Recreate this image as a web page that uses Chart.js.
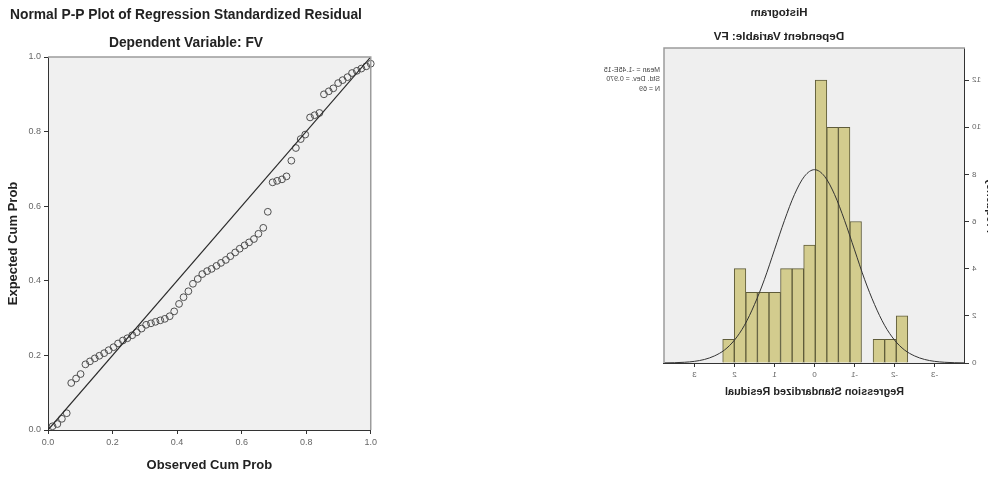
<!DOCTYPE html>
<html>
<head>
<meta charset="utf-8">
<script src="https://cdn.jsdelivr.net/npm/chart.js@4.4.1/dist/chart.umd.min.js"></script>
<style>
  html, body { margin: 0; padding: 0; background: #fff; overflow: hidden; width: 988px; height: 478px; }
  #pp { position: absolute; left: 0; top: 0; }
  #hist { position: absolute; left: 580px; top: 0; transform: scaleX(-1); }
</style>
</head>
<body>
<canvas id="pp" width="380" height="478"></canvas>
<canvas id="hist" width="418" height="478"></canvas>
<script>
// ---- P-P plot data: observed vs expected cumulative probability of the residuals
const observedCumProb = [
  0.014, 0.029, 0.043, 0.058, 0.072, 0.087, 0.101, 0.116, 0.130, 0.145,
  0.159, 0.174, 0.188, 0.203, 0.217, 0.232, 0.246, 0.261, 0.275, 0.290,
  0.304, 0.319, 0.333, 0.348, 0.362, 0.377, 0.391, 0.406, 0.420, 0.435,
  0.449, 0.464, 0.478, 0.493, 0.507, 0.522, 0.536, 0.551, 0.565, 0.580,
  0.594, 0.609, 0.623, 0.638, 0.652, 0.667, 0.681, 0.696, 0.710, 0.725,
  0.739, 0.754, 0.768, 0.783, 0.797, 0.812, 0.826, 0.841, 0.855, 0.870,
  0.884, 0.899, 0.913, 0.928, 0.942, 0.957, 0.971, 0.986, 1.000
];
const expectedCumProb = [
  0.010, 0.016, 0.030, 0.045, 0.126, 0.138, 0.150, 0.176, 0.184, 0.192,
  0.199, 0.206, 0.214, 0.222, 0.232, 0.240, 0.246, 0.254, 0.262, 0.272,
  0.282, 0.286, 0.290, 0.294, 0.298, 0.305, 0.318, 0.338, 0.356, 0.372,
  0.392, 0.405, 0.418, 0.426, 0.432, 0.440, 0.448, 0.456, 0.466, 0.476,
  0.486, 0.495, 0.503, 0.512, 0.526, 0.542, 0.585, 0.664, 0.668, 0.672,
  0.680, 0.722, 0.756, 0.780, 0.792, 0.838, 0.844, 0.850, 0.900, 0.908,
  0.916, 0.930, 0.938, 0.946, 0.957, 0.963, 0.969, 0.975, 0.982
];
const ppTicks = [0, 0.2, 0.4, 0.6, 0.8, 1.0];
const ppTickLabels = ['0.0', '0.2', '0.4', '0.6', '0.8', '1.0'];

// ---- Histogram data: standardized residual bins and frequencies
const binCenters = [-2.186, -1.897, -1.608, -1.319, -1.030, -0.741, -0.452, -0.163,
                     0.126, 0.415, 0.704, 0.993, 1.282, 1.571, 1.860, 2.149];
const binCounts  = [2, 1, 1, 0, 6, 10, 10, 12, 5, 4, 4, 3, 3, 3, 4, 1];
// fitted normal curve, frequency scale
const curveX = [-3.75, -3.5, -3.25, -3, -2.75, -2.5, -2.25, -2, -1.75, -1.5, -1.25, -1, -0.75, -0.5, -0.25,
                0, 0.25, 0.5, 0.75, 1, 1.25, 1.5, 1.75, 2, 2.25, 2.5, 2.75, 3, 3.25, 3.5, 3.75];
const curveY = [0.005, 0.012, 0.031, 0.07, 0.15, 0.30, 0.55, 0.97, 1.60, 2.48, 3.55, 4.80, 6.05, 7.15, 7.92,
                8.20, 7.92, 7.15, 6.05, 4.80, 3.55, 2.48, 1.60, 0.97, 0.55, 0.30, 0.15, 0.07, 0.031, 0.012, 0.005];
const histXTicks = [-3, -2, -1, 0, 1, 2, 3];
const histYTicks = [0, 2, 4, 6, 8, 10, 12];
const histStats = ['Mean = -1.45E-15', 'Std. Dev. = 0.970', 'N = 69'];

const FAMILY = '"Liberation Sans", Arial, Helvetica, sans-serif';

// plot panel: grey background, light frame on the open sides, header texts
const panel = {
  id: 'panel',
  beforeDraw(chart, args, opts) {
    const { ctx, chartArea: a } = chart;
    ctx.save();
    ctx.fillStyle = opts.bg;
    ctx.fillRect(a.left, a.top, a.right - a.left, a.bottom - a.top);
    ctx.restore();
  },
  afterDraw(chart, args, opts) {
    const { ctx, chartArea: a } = chart;
    ctx.save();
    ctx.strokeStyle = opts.frame;
    ctx.lineWidth = 1.5;
    ctx.beginPath();
    ctx.moveTo(a.left, a.top);
    ctx.lineTo(a.right, a.top);
    ctx.lineTo(a.right, a.bottom);
    ctx.stroke();
    ctx.fillStyle = '#222';
    ctx.textAlign = 'center';
    ctx.textBaseline = 'middle';
    (opts.headers || []).forEach(h => {
      ctx.font = h.font;
      ctx.fillText(h.text, h.x, h.y);
    });
    if (opts.notes) {
      ctx.fillStyle = '#444';
      ctx.textAlign = 'left';
      ctx.font = '7px ' + FAMILY;
      opts.notes.forEach((t, i) => ctx.fillText(t, a.right + 4, 70 + i * 9.3));
    }
    ctx.restore();
  }
};

const axisBase = (fontSize) => ({
  type: 'linear',
  grid: { display: true, drawOnChartArea: false, drawTicks: true, tickLength: 4, color: '#333' },
  border: { display: true, color: '#333', width: 1 },
  ticks: { font: { size: fontSize, family: FAMILY }, color: '#666', padding: 3, autoSkip: false, maxRotation: 0 }
});

// ---------- Normal P-P plot ----------
const ppX = axisBase(9);
Object.assign(ppX, {
  min: 0, max: 1,
  afterBuildTicks: s => { s.ticks = ppTicks.map(v => ({ value: v })); },
  afterFit: s => { s.height = 48; },
  title: { display: true, text: 'Observed Cum Prob', color: '#222',
           font: { size: 13, weight: 'bold', family: FAMILY }, padding: { top: 0, bottom: 5 } }
});
ppX.ticks.callback = (v, i) => ppTickLabels[i];
const ppY = axisBase(9);
Object.assign(ppY, {
  min: 0, max: 1,
  afterBuildTicks: s => { s.ticks = ppTicks.map(v => ({ value: v })); },
  afterFit: s => { s.width = 48; },
  title: { display: true, text: 'Expected Cum Prob', color: '#222',
           font: { size: 13, weight: 'bold', family: FAMILY }, padding: { top: 6, bottom: 0 } }
});
ppY.ticks.callback = (v, i) => ppTickLabels[i];

new Chart(document.getElementById('pp'), {
  type: 'scatter',
  data: {
    datasets: [
      { type: 'line', data: [{ x: 0, y: 0 }, { x: 1, y: 1 }], borderColor: '#2a2a2a',
        borderWidth: 1.2, pointRadius: 0, fill: false, order: 0 },
      { data: observedCumProb.map((x, i) => ({ x, y: expectedCumProb[i] })),
        pointRadius: 3.4, pointBorderWidth: 1, borderColor: '#4f4f4f',
        backgroundColor: 'rgba(0,0,0,0)', clip: 6, order: 1 }
    ]
  },
  options: {
    responsive: false, animation: false, events: [],
    layout: { padding: { left: 0, right: 8, top: 57, bottom: 0 } },
    plugins: {
      legend: { display: false }, tooltip: { enabled: false },
      panel: {
        bg: '#f0f0f0', frame: '#9c9c9c',
        headers: [
          { text: 'Normal P-P Plot of Regression Standardized Residual', x: 186, y: 15, font: 'bold 13.8px ' + FAMILY },
          { text: 'Dependent Variable: FV', x: 186, y: 43, font: 'bold 13.8px ' + FAMILY }
        ]
      }
    },
    scales: { x: ppX, y: ppY }
  },
  plugins: [panel]
});

// ---------- Histogram (canvas shown mirrored) ----------
const hX = axisBase(8);
Object.assign(hX, {
  min: -3.76, max: 3.76, offset: false,
  afterBuildTicks: s => { s.ticks = histXTicks.map(v => ({ value: v })); },
  afterFit: s => { s.height = 42; },
  title: { display: true, text: 'Regression Standardized Residual', color: '#222',
           font: { size: 10.9, weight: 'bold', family: FAMILY }, padding: { top: 0, bottom: 6 } }
});
hX.grid.offset = false;
hX.ticks.callback = (v) => String(v);
const hY = axisBase(8);
Object.assign(hY, {
  min: 0, max: 13.36,
  afterBuildTicks: s => { s.ticks = histYTicks.map(v => ({ value: v })); },
  afterFit: s => { s.width = 33; },
  title: { display: true, text: 'Frequency', color: '#222',
           font: { size: 10.9, weight: 'bold', family: FAMILY }, padding: { top: 1, bottom: 0 } }
});
hY.ticks.callback = (v) => String(v);

new Chart(document.getElementById('hist'), {
  type: 'bar',
  data: {
    datasets: [
      { type: 'line', data: curveX.map((x, i) => ({ x, y: curveY[i] })), borderColor: '#333',
        borderWidth: 1, pointRadius: 0, cubicInterpolationMode: 'monotone', fill: false, order: 0 },
      { type: 'bar', data: binCenters.map((x, i) => ({ x, y: binCounts[i] })),
        backgroundColor: '#d3cc8e', borderColor: '#5f5c3a', borderWidth: 1,
        barPercentage: 1, categoryPercentage: 1, order: 1 }
    ]
  },
  options: {
    responsive: false, animation: false, events: [],
    layout: { padding: { left: 0, right: 84, top: 48, bottom: 73 } },
    plugins: {
      legend: { display: false }, tooltip: { enabled: false },
      panel: {
        bg: '#efefef', frame: '#9c9c9c',
        headers: [
          { text: 'Histogram', x: 219, y: 13, font: 'bold 11.5px ' + FAMILY },
          { text: 'Dependent Variable: FV', x: 219, y: 37, font: 'bold 11.7px ' + FAMILY }
        ],
        notes: histStats
      }
    },
    scales: { x: hX, y: hY }
  },
  plugins: [panel]
});
</script>
</body>
</html>
